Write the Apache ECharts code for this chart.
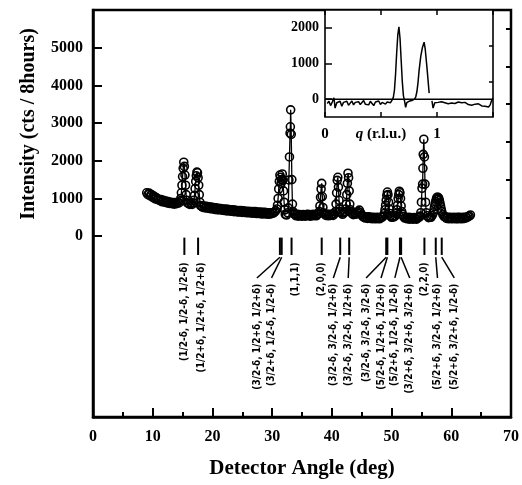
<!DOCTYPE html>
<html><head><meta charset="utf-8">
<script src="https://cdn.jsdelivr.net/npm/echarts@6/dist/echarts.min.js"></script>
<style>html,body{margin:0;padding:0;background:#fff}#c{width:522px;height:485px}</style>
</head><body><div id="c"></div>
<script>
// Main scan: [detector angle (deg), intensity (cts / 8 hours)]
const scan = [
[9.0,1150],[9.2,1100],[9.4,1140],[9.6,1070],[9.8,1100],[10.0,1030],[10.2,1060],[10.4,990],[10.6,1020],[10.8,970],
[11.0,980],[11.2,940],[11.4,970],[11.6,910],[11.8,950],[12.0,900],[12.2,930],[12.4,880],[12.6,920],[12.8,870],
[13.0,900],[13.2,860],[13.4,890],[13.6,850],[13.8,890],[14.0,860],[14.2,890],[14.4,880],[14.6,930],
[14.7,1000],[14.8,1150],[14.9,1350],[15.0,1580],[15.1,1800],[15.2,1960],[15.3,1850],[15.4,1620],[15.5,1350],[15.6,1100],[15.7,950],[15.8,880],
[16.0,870],[16.2,840],[16.4,870],[16.6,840],[16.8,880],
[16.9,950],[17.0,1080],[17.1,1260],[17.2,1450],[17.3,1600],[17.4,1700],[17.5,1680],[17.6,1550],[17.7,1350],[17.8,1100],[17.9,900],[18.0,810],
[18.2,790],[18.4,760],[18.6,800],[18.8,750],[19.0,790],[19.2,740],[19.4,780],[19.6,730],[19.8,770],[20.0,720],
[20.2,760],[20.4,710],[20.6,750],[20.8,700],[21.0,740],[21.2,700],[21.4,730],[21.6,690],[21.8,720],[22.0,680],
[22.2,720],[22.4,670],[22.6,710],[22.8,670],[23.0,700],[23.2,660],[23.4,700],[23.6,650],[23.8,690],[24.0,660],
[24.2,640],[24.4,680],[24.6,640],[24.8,680],[25.0,630],[25.2,670],[25.4,630],[25.6,660],[25.8,620],[26.0,660],
[26.2,620],[26.4,650],[26.6,610],[26.8,650],[27.0,610],[27.2,650],[27.4,600],[27.6,640],[27.8,600],[28.0,640],
[28.2,590],[28.4,630],[28.6,590],[28.8,630],[29.0,590],[29.2,620],[29.4,580],[29.6,620],[29.8,590],[30.0,620],
[30.2,610],[30.4,640],[30.6,670],
[30.8,720],[30.9,820],[31.0,1000],[31.1,1250],[31.2,1450],[31.3,1620],[31.4,1560],[31.5,1400],[31.6,1500],[31.7,1650],[31.8,1480],[31.9,1200],[32.0,900],[32.1,700],[32.2,580],[32.4,560],[32.6,620],
[32.7,750],[32.8,1490],[32.9,2100],[33.0,2730],[33.05,2900],[33.1,3350],[33.2,2700],[33.3,1500],[33.4,850],[33.5,650],[33.6,600],
[33.8,580],[34.0,540],[34.2,580],[34.4,530],[34.6,570],[34.8,540],[35.0,530],[35.2,570],[35.4,540],[35.6,530],
[35.8,570],[36.0,580],[36.2,540],[36.4,530],[36.6,570],[36.8,540],[37.0,580],[37.2,550],[37.4,540],[37.6,580],[37.8,600],
[37.9,650],[38.0,800],[38.1,1030],[38.2,1250],[38.3,1400],[38.4,1050],[38.5,760],[38.6,620],
[38.8,590],[39.0,550],[39.2,580],[39.4,540],[39.6,580],[39.8,550],[40.0,580],[40.2,550],[40.4,590],
[40.6,650],[40.7,850],[40.8,1150],[40.9,1480],[41.0,1560],[41.1,1300],[41.2,950],[41.3,720],[41.4,650],[41.6,610],[41.8,580],[42.0,620],
[42.2,640],[42.3,720],[42.4,850],[42.5,1100],[42.6,1400],[42.7,1670],[42.8,1550],[42.9,1200],[43.0,850],[43.1,700],[43.2,640],
[43.4,600],[43.6,570],[43.8,610],[44.0,580],[44.2,620],[44.4,650],[44.6,690],[44.8,620],[45.0,560],
[45.2,520],[45.4,500],[45.6,480],[45.8,510],[46.0,470],[46.2,510],[46.4,470],[46.6,500],[46.8,460],[47.0,500],
[47.2,470],[47.4,460],[47.6,500],[47.8,470],[48.0,460],[48.2,500],[48.4,500],[48.6,530],
[48.8,600],[48.9,700],[49.0,820],[49.1,950],[49.2,1080],[49.3,1170],[49.4,1100],[49.5,900],[49.6,720],[49.7,600],[49.8,540],
[50.0,500],[50.2,510],[50.4,510],[50.6,540],
[50.8,600],[50.9,700],[51.0,820],[51.1,1000],[51.2,1100],[51.3,1190],[51.4,1150],[51.5,1000],[51.6,800],[51.7,650],[51.8,580],
[52.0,520],[52.2,480],[52.4,490],[52.6,460],[52.8,500],[53.0,450],[53.2,490],[53.4,460],[53.6,450],[53.8,490],
[54.0,460],[54.2,450],[54.4,490],[54.6,500],[54.8,530],
[54.9,620],[55.0,900],[55.1,1270],[55.2,1380],[55.25,1800],[55.3,2170],[55.4,2570],[55.5,2100],[55.6,1380],[55.7,900],[55.8,620],
[56.0,540],[56.2,490],[56.4,500],[56.6,500],[56.8,550],
[57.0,620],[57.1,700],[57.2,780],[57.3,850],[57.4,920],[57.5,980],[57.6,1030],[57.7,980],[57.8,1030],[57.9,1000],[58.0,950],[58.1,880],[58.2,800],[58.3,720],[58.4,650],
[58.6,570],[58.8,520],[59.0,510],[59.2,470],[59.4,500],[59.6,460],[59.8,500],[60.0,470],[60.2,460],[60.4,500],
[60.6,470],[60.8,460],[61.0,500],[61.2,460],[61.4,500],[61.6,470],[61.8,460],[62.0,500],[62.2,470],[62.4,500],
[62.6,490],[62.8,520],[63.0,530],[63.2,560]
];

// Inset scan: [position along q (inset units), intensity]
const insetScan = [
[0.04,-120],[0.07,-60],[0.10,-180],[0.13,-80],[0.16,40],[0.18,-250],[0.21,-100],[0.24,-150],[0.27,-60],[0.30,-200],
[0.33,-90],[0.36,-140],[0.39,-60],[0.42,-170],[0.45,-110],[0.48,-50],[0.51,-160],[0.54,-90],[0.57,-130],[0.60,-70],
[0.63,-150],[0.66,-100],[0.69,-40],[0.72,-140],[0.75,-90],[0.78,-160],[0.81,-60],[0.84,-120],[0.87,-180],[0.90,-80],
[0.93,-130],[0.96,-50],[0.99,-150],[1.02,-90],[1.05,-60],[1.08,-140],[1.11,-80],[1.14,-30],[1.17,-100],[1.20,-20],
[1.22,50],[1.24,250],[1.26,700],[1.28,1300],[1.30,1800],[1.32,2030],[1.34,1700],[1.36,1100],[1.38,500],[1.40,100],
[1.42,-50],[1.44,-230],[1.46,-100],[1.48,-150],[1.50,-60],[1.52,-110],[1.55,-40],[1.58,-80],[1.60,0],
[1.62,60],[1.64,200],[1.66,450],[1.68,800],[1.71,1200],[1.74,1450],[1.77,1600],[1.79,1400],[1.82,900],[1.86,170],
[1.88,null],
[1.91,-50],[1.93,-250],[1.96,-100],[1.99,-150],[2.02,-90],[2.05,-130],[2.08,-70],[2.11,-120],[2.14,-100],[2.17,-60],
[2.20,-130],[2.23,-90],[2.26,-110],[2.29,-70],[2.32,-120],[2.35,-100],[2.38,-80],[2.41,-130],[2.44,-100],[2.47,-140],
[2.50,-90],[2.53,-120],[2.56,-150],[2.59,-110],[2.62,-170],[2.65,-120],[2.68,-140],[2.71,-180],[2.74,-130],[2.77,-160],
[2.80,-190],[2.83,-150],[2.86,-200],[2.89,-170],[2.92,-220],[2.95,-160],[2.97,-60],[3.00,30]
];
const insetZero = [[0,0],[3,0]];

// Reflection markers
const reflectionAngles = [15.3, 17.6, 31.3, 31.6, 33.25, 38.3, 41.4, 42.9, 49.1, 49.3, 51.4, 51.6, 55.5, 57.4, 58.4];
const labelAngles      = [15.35, 18.15, 27.45, 29.9, 33.9, 38.25, 40.25, 42.74, 45.73, 48.23, 50.55, 53.04, 55.53, 57.69, 60.5];
const hasLeader        = [0, 0, 1, 1, 0, 0, 1, 1, 1, 1, 1, 1, 0, 1, 1];
const reflectionLabels = [
  '(1/2-δ, 1/2-δ, 1/2-δ)', '(1/2+δ, 1/2+δ, 1/2+δ)',
  '(3/2-δ, 1/2+δ, 1/2+δ)', '(3/2+δ, 1/2-δ, 1/2-δ)',
  '(1,1,1)', '(2,0,0)',
  '(3/2-δ, 3/2-δ, 1/2+δ)', '(3/2-δ, 3/2-δ, 1/2+δ)',
  '(3/2-δ, 3/2-δ, 3/2-δ)', '(5/2-δ, 1/2+δ, 1/2+δ)',
  '(5/2+δ, 1/2-δ, 1/2-δ)', '(3/2+δ, 3/2+δ, 3/2+δ)',
  '(2,2,0)',
  '(5/2+δ, 3/2-δ, 1/2+δ)', '(5/2+δ, 3/2+δ, 1/2-δ)'
];

const yMajorTicks = [0, 1000, 2000, 3000, 4000, 5000];
const yMinorTicks = [500, 1500, 2500, 3500, 4500, 5500];
const insetXLabels = ['0', '{i|q} (r.l.u.)', '1', ''];
const insetYLabels = [0, 1000, 2000];

const serif = '"Liberation Serif", "Times New Roman", serif';
const condensed = '"DejaVu Sans Condensed", "DejaVu Sans", "Liberation Sans", sans-serif';
const plain = function (v) { return String(v); };

const chart = echarts.init(document.getElementById('c'), null, {renderer: 'canvas'});

const option = {
  animation: false,
  backgroundColor: '#fff',
  graphic: [{
    type: 'text', x: 29, y: 124, rotation: Math.PI / 2,
    style: {text: 'Intensity (cts / 8hours)', fill: '#000', fontFamily: serif, fontWeight: 'bold', fontSize: 20, align: 'center', verticalAlign: 'middle'}
  }],
  grid: [
    {left: 93, top: 10, width: 421, height: 407, show: true, borderColor: '#000', borderWidth: 2.5, backgroundColor: 'transparent'},
    {left: 325, top: 10, width: 168, height: 107, show: true, borderColor: '#000', borderWidth: 1.6, backgroundColor: '#fff'}
  ],
  xAxis: [
    {
      gridIndex: 0, type: 'value', min: 0, max: 70, interval: 10,
      axisLine: {show: true, onZero: false, lineStyle: {color: '#000', width: 2.5}},
      axisTick: {show: true, inside: true, length: 9, lineStyle: {color: '#000', width: 2}},
      minorTick: {show: true, splitNumber: 2, length: 5, lineStyle: {color: '#000', width: 2}},
      splitLine: {show: false},
      axisLabel: {show: true, margin: 12, color: '#000', fontFamily: serif, fontWeight: 'bold', fontSize: 16, showMaxLabel: true, showMinLabel: true, formatter: plain},
      name: 'Detector Angle (deg)', nameLocation: 'middle', nameGap: 41,
      nameTextStyle: {color: '#000', fontFamily: serif, fontWeight: 'bold', fontSize: 21}
    },
    {
      gridIndex: 1, type: 'value', min: 0, max: 3, interval: 1,
      axisLine: {show: false, onZero: false},
      axisTick: {show: true, inside: true, length: 5, lineStyle: {color: '#000', width: 1.5}},
      splitLine: {show: false},
      axisLabel: {
        show: true, margin: 10, color: '#000', fontFamily: serif, fontWeight: 'bold', fontSize: 15,
        showMinLabel: true, showMaxLabel: true,
        formatter: function (v) { return insetXLabels[Math.round(v)] || ''; },
        rich: {i: {fontStyle: 'italic', fontFamily: serif, fontWeight: 'bold', fontSize: 15, color: '#000'}}
      }
    },
    {
      gridIndex: 1, type: 'value', min: 0, max: 3, interval: 1, position: 'top',
      axisLine: {show: false, onZero: false},
      axisTick: {show: true, inside: true, length: 5, lineStyle: {color: '#000', width: 1.5}},
      splitLine: {show: false},
      axisLabel: {show: false}
    }
  ],
  yAxis: [
    {
      gridIndex: 0, type: 'value', min: -4800, max: 6000,
      axisLine: {show: true, onZero: false, lineStyle: {color: '#000', width: 2.5}},
      axisTick: {show: true, inside: true, length: 9, customValues: yMajorTicks, lineStyle: {color: '#000', width: 2}},
      splitLine: {show: false},
      axisLabel: {show: true, margin: 10, customValues: yMajorTicks, formatter: plain, color: '#000', fontFamily: serif, fontWeight: 'bold', fontSize: 16}
    },
    {
      gridIndex: 0, type: 'value', min: -4800, max: 6000,
      axisLine: {show: false, onZero: false},
      axisTick: {show: true, inside: true, length: 5, customValues: yMinorTicks, lineStyle: {color: '#000', width: 2}},
      splitLine: {show: false},
      axisLabel: {show: false}
    },
    {
      gridIndex: 1, type: 'value', min: -500, max: 2500,
      axisLine: {show: false, onZero: false},
      axisTick: {show: true, inside: true, length: 7, customValues: insetYLabels, lineStyle: {color: '#000', width: 1.5}},
      splitLine: {show: false},
      axisLabel: {show: true, margin: 6, customValues: insetYLabels, formatter: plain, color: '#000', fontFamily: serif, fontWeight: 'bold', fontSize: 14}
    },
    {
      gridIndex: 1, type: 'value', min: -500, max: 2500,
      axisLine: {show: false, onZero: false},
      axisTick: {show: true, inside: true, length: 4, customValues: [500, 1500], lineStyle: {color: '#000', width: 1.5}},
      splitLine: {show: false},
      axisLabel: {show: false}
    }
  ],
  series: [
    {
      type: 'line', xAxisIndex: 0, yAxisIndex: 0, data: scan,
      symbol: 'circle', symbolSize: 8, showSymbol: true, showAllSymbol: true,
      itemStyle: {color: 'rgba(255,255,255,0)', borderColor: '#000', borderWidth: 1.6},
      lineStyle: {color: '#000', width: 1.3},
      z: 3
    },
    {
      type: 'custom', xAxisIndex: 0, yAxisIndex: 0,
      data: reflectionAngles.map(function (a, i) { return [a, labelAngles[i], hasLeader[i], i]; }),
      encode: {x: [0, 1], y: 2},
      clip: false,
      renderItem: function (params, api) {
        const a = api.value(0), la = api.value(1), lead = api.value(2), idx = api.value(3);
        const b0 = api.coord([a, -40]), b1 = api.coord([a, -500]);
        const children = [{
          type: 'line', shape: {x1: b0[0], y1: b0[1], x2: b1[0], y2: b1[1]},
          style: {stroke: '#000', lineWidth: 2}
        }];
        let top;
        if (lead) {
          const l0 = api.coord([a, -560]), l1 = api.coord([la, -1110]);
          children.push({type: 'line', shape: {x1: l0[0], y1: l0[1], x2: l1[0], y2: l1[1]}, style: {stroke: '#000', lineWidth: 1.5}});
          top = api.coord([la, -1260]);
        } else {
          top = api.coord([la, -700]);
        }
        children.push({
          type: 'text', x: top[0], y: top[1], rotation: Math.PI / 2,
          style: {text: reflectionLabels[idx], fill: '#000', font: 'bold 10px ' + condensed, align: 'right', verticalAlign: 'middle'}
        });
        return {type: 'group', children: children};
      },
      z: 4
    },
    {
      type: 'line', xAxisIndex: 1, yAxisIndex: 2, data: insetZero,
      symbol: 'none', lineStyle: {color: '#000', width: 1.5}, z: 5
    },
    {
      type: 'line', xAxisIndex: 1, yAxisIndex: 2, data: insetScan,
      symbol: 'none', connectNulls: false, lineStyle: {color: '#000', width: 1.5}, z: 5
    }
  ]
};
chart.setOption(option);
</script>
</body></html>
